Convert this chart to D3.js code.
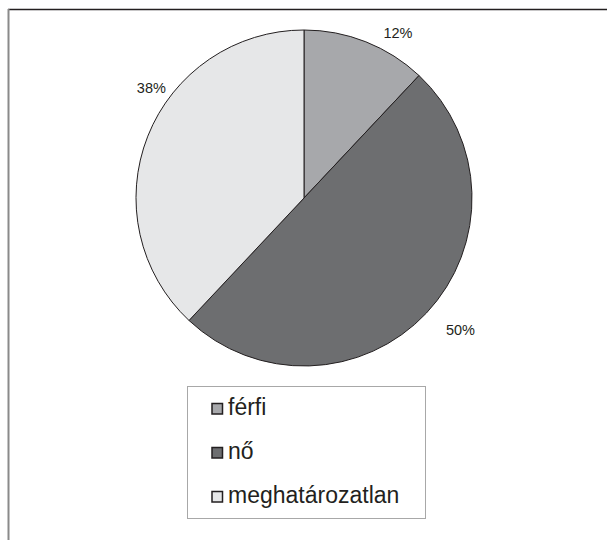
<!DOCTYPE html>
<html>
<head>
<meta charset="utf-8">
<script src="https://cdn.jsdelivr.net/npm/d3@7"></script>
<style>
  html, body { margin: 0; padding: 0; background: #fff; }
  svg { display: block; }
  text { font-family: "Liberation Sans", Arial, sans-serif; fill: #231f20; }
</style>
</head>
<body>
<svg id="chart" width="607" height="540"></svg>
<script>
// Gender breakdown (percent)
const categories = ["férfi", "nő", "meghatározatlan"];
const values = [12, 50, 38];
const colors = ["#a7a8ab", "#6d6e70", "#e6e7e8"];

const svg = d3.select("#chart");

// Frame: dark top rule, grey left rule
svg.append("line").attr("x1", 8).attr("x2", 607).attr("y1", 9.5).attr("y2", 9.5)
  .attr("stroke", "#231f20").attr("stroke-width", 1.6);
svg.append("line").attr("x1", 8.5).attr("x2", 8.5).attr("y1", 9).attr("y2", 540)
  .attr("stroke", "#8a8a8a").attr("stroke-width", 2);

const cx = 304, cy = 198, r = 168;

const pie = d3.pie().sort(null).value(d => d.value);
const arcs = pie(categories.map((c, i) => ({ name: c, value: values[i], color: colors[i] })));
const arc = d3.arc().innerRadius(0).outerRadius(r);

const g = svg.append("g").attr("transform", `translate(${cx},${cy})`);
g.selectAll("path.slice")
  .data(arcs)
  .join("path")
  .attr("class", "slice")
  .attr("d", arc)
  .attr("fill", d => d.data.color)
  .attr("stroke", "#231f20")
  .attr("stroke-width", 1)
  .attr("stroke-linejoin", "round");

// Percentage labels outside the slices, nudged clear of the rim
const labelArc = d3.arc().innerRadius(r + 22).outerRadius(r + 22);
const labelOffsets = [[24, 13], [18, 3], [24, -39]];
g.selectAll("text.pct")
  .data(arcs)
  .join("text")
  .attr("class", "pct")
  .attr("x", (d, i) => labelArc.centroid(d)[0] + labelOffsets[i][0])
  .attr("y", (d, i) => labelArc.centroid(d)[1] + labelOffsets[i][1])
  .attr("text-anchor", "middle")
  .attr("dominant-baseline", "middle")
  .attr("font-size", 14.5)
  .text(d => d.data.value + "%");

// Legend
const legend = svg.append("g");
legend.append("rect")
  .attr("x", 187.5).attr("y", 386.5).attr("width", 238).attr("height", 132)
  .attr("fill", "#fff").attr("stroke", "#a8a8a8").attr("stroke-width", 1);

const rowY = d3.scalePoint().domain(categories).range([415, 503]);
const items = legend.selectAll("g.item")
  .data(arcs)
  .join("g")
  .attr("class", "item")
  .attr("transform", d => `translate(0,${rowY(d.data.name)})`);
items.append("rect")
  .attr("x", 212).attr("y", -11.5).attr("width", 10.5).attr("height", 10.5)
  .attr("fill", d => d.data.color)
  .attr("stroke", "#231f20").attr("stroke-width", 1.5);
items.append("text")
  .attr("x", 228).attr("y", 0)
  .attr("font-size", 23)
  .text(d => d.data.name);
</script>
</body>
</html>
